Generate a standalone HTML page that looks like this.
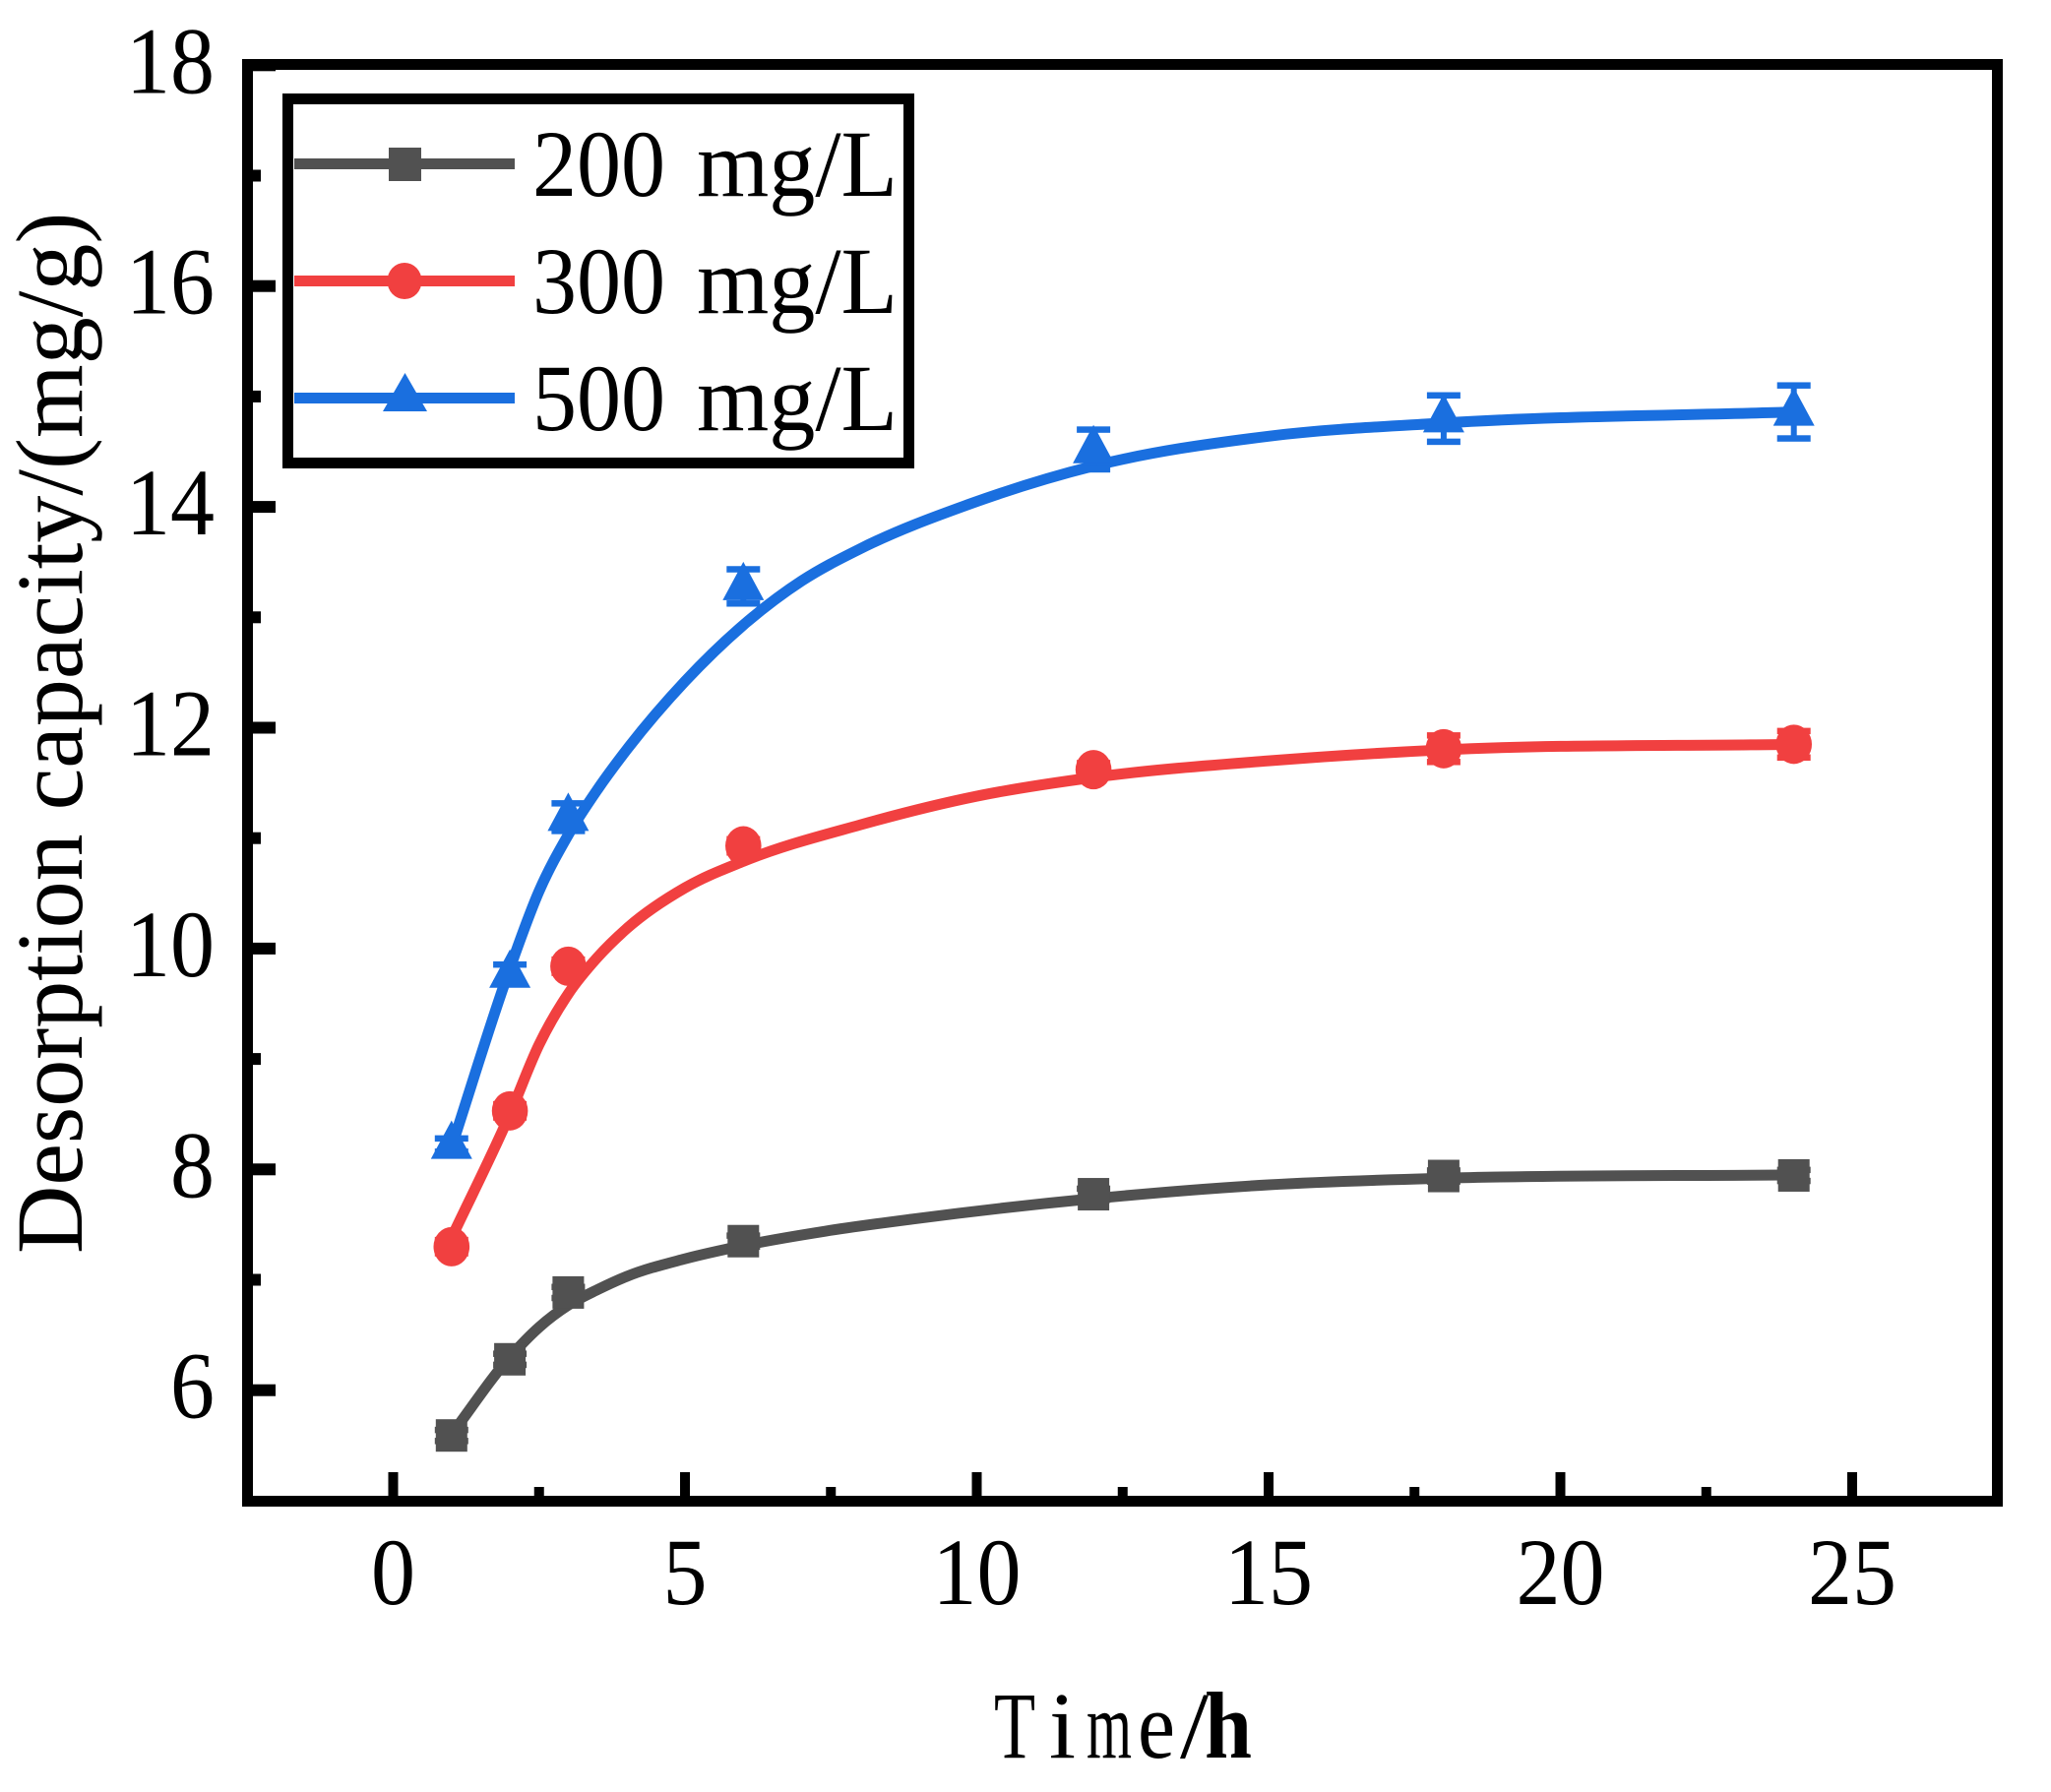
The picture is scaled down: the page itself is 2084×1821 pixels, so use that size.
<!DOCTYPE html>
<html lang="en">
<head>
<meta charset="utf-8">
<title>Desorption capacity over time</title>
<style>
html,body{margin:0;padding:0;background:#fff;}
svg{display:block;}
text{font-family:"Liberation Serif","Times New Roman",serif;font-size:96px;fill:#000;}
</style>
</head>
<body>
<svg id="chart" xmlns="http://www.w3.org/2000/svg" width="2084" height="1821" viewBox="0 0 2084 1821">
  <rect x="0" y="0" width="2084" height="1821" fill="#fff"/>
  <g id="ticks"></g>
  <g id="series"></g>
  <rect x="251.5" y="65.5" width="1778" height="1460" fill="none" stroke="#000" stroke-width="11"/>
  <text transform="translate(83,1274) rotate(-90)" x="0" y="0">Desorption capacity/(mg/g)</text>
  <text y="1786"><tspan x="1010" textLength="42" lengthAdjust="spacingAndGlyphs">T</tspan><tspan x="1066" textLength="27" lengthAdjust="spacingAndGlyphs">i</tspan><tspan x="1104" textLength="46" lengthAdjust="spacingAndGlyphs">m</tspan><tspan x="1156" textLength="38" lengthAdjust="spacingAndGlyphs">e</tspan><tspan x="1199" textLength="29" lengthAdjust="spacingAndGlyphs">/</tspan><tspan x="1224" font-weight="bold" textLength="48" lengthAdjust="spacingAndGlyphs">h</tspan></text>
  <g>
    <rect x="292.5" y="100.5" width="631" height="370" fill="#fff" stroke="#000" stroke-width="11"/>
    <g>
      <rect x="299" y="161" width="224" height="11" fill="#515151"/>
      <rect x="395" y="150" width="33" height="34" fill="#515151"/>
      <text y="199"><tspan x="541" textLength="135" lengthAdjust="spacingAndGlyphs">200</tspan> <tspan x="708" textLength="204" lengthAdjust="spacingAndGlyphs">mg/L</tspan></text>
    </g>
    <g>
      <rect x="299" y="280" width="224" height="11" fill="#F14040"/>
      <ellipse cx="411" cy="285.5" rx="17.5" ry="18.5" fill="#F14040"/>
      <text y="318"><tspan x="541" textLength="135" lengthAdjust="spacingAndGlyphs">300</tspan> <tspan x="708" textLength="204" lengthAdjust="spacingAndGlyphs">mg/L</tspan></text>
    </g>
    <g>
      <rect x="299" y="399" width="224" height="11" fill="#1A6FDF"/>
      <polygon points="411.5,379 434,418 389,418" fill="#1A6FDF"/>
      <text y="437"><tspan x="541" textLength="135" lengthAdjust="spacingAndGlyphs">500</tspan> <tspan x="708" textLength="204" lengthAdjust="spacingAndGlyphs">mg/L</tspan></text>
    </g>
  </g>
</svg>
<script>
// Measured data
const times = [1, 2, 3, 6, 12, 18, 24];
const gray200 = [5.59, 6.28, 6.885, 7.35, 7.775, 7.94, 7.945];
const red300 = [7.30, 8.53, 9.84, 10.93, 11.62, 11.81, 11.85];
const blue500 = [8.22, 9.77, 11.19, 13.28, 14.52, 14.80, 14.86];
const gray200Err = [0.05, 0.05, 0.05, 0.05, 0.05, 0.05, 0.05];
const red300Err = [0.06, 0.06, 0.06, 0.06, 0.06, 0.12, 0.12];
const blue500Err = [0.06, 0.085, 0.125, 0.155, 0.18, 0.21, 0.24];

// Fitted curves
const gray200FitT = [1, 2, 2.5, 3, 3.5, 4, 5, 6, 7.4, 8.9, 12, 15, 18, 24];
const gray200FitV = [5.60, 6.30, 6.57, 6.77, 6.91, 7.03, 7.19, 7.31, 7.44, 7.55, 7.735, 7.86, 7.92, 7.95];
const red300FitT = [1, 2, 2.5, 3, 3.5, 4, 5, 6, 8, 10, 12, 15, 18, 24];
const red300FitV = [7.38, 8.50, 9.13, 9.59, 9.92, 10.18, 10.55, 10.79, 11.12, 11.38, 11.55, 11.70, 11.80, 11.85];
const blue500FitT = [1, 2, 2.5, 3, 3.5, 4, 5, 6, 7, 8, 9.9, 12, 15, 18, 24];
const blue500FitV = [8.2, 9.82, 10.52, 11.03, 11.44, 11.80, 12.42, 12.93, 13.33, 13.62, 14.03, 14.37, 14.64, 14.76, 14.86];

// Tick labels
const xMajorTicks = [0, 5, 10, 15, 20, 25];
const xMinorTicks = [2.5, 7.5, 12.5, 17.5, 22.5];
const yMajorTicks = [6, 8, 10, 12, 14, 16, 18];
const yMinorTicks = [7, 9, 11, 13, 15, 17];

const SVGNS = 'http://www.w3.org/2000/svg';
const GRAY = '#515151', RED = '#F14040', BLUE = '#1A6FDF';
const xScale = t => 399.5 + 59.3 * t;
const yScale = v => 1412.7 - 112.2 * (v - 6);

function make(tag, parent, props, text) {
  const el = document.createElementNS(SVGNS, tag);
  for (const k in props) el.setAttribute(k, props[k]);
  if (text !== undefined) el.textContent = text;
  parent.appendChild(el);
  return el;
}

function curvePath(ts, vs) {
  const n = ts.length;
  const slopes = [];
  const widths = [];
  for (let i = 0; i < n - 1; i++) {
    widths.push(ts[i + 1] - ts[i]);
    slopes.push((vs[i + 1] - vs[i]) / widths[i]);
  }
  const tang = [];
  for (let i = 0; i < n; i++) {
    if (i === 0) tang.push(slopes[0]);
    else if (i === n - 1) tang.push(slopes[n - 2]);
    else tang.push((widths[i] * slopes[i - 1] + widths[i - 1] * slopes[i]) / (widths[i - 1] + widths[i]));
  }
  let d = 'M' + xScale(ts[0]).toFixed(2) + ' ' + yScale(vs[0]).toFixed(2);
  for (let i = 0; i < n - 1; i++) {
    const h = widths[i] / 3;
    d += ' C' + xScale(ts[i] + h).toFixed(2) + ' ' + yScale(vs[i] + tang[i] * h).toFixed(2) +
         ' ' + xScale(ts[i + 1] - h).toFixed(2) + ' ' + yScale(vs[i + 1] - tang[i + 1] * h).toFixed(2) +
         ' ' + xScale(ts[i + 1]).toFixed(2) + ' ' + yScale(vs[i + 1]).toFixed(2);
  }
  return d;
}

// Ticks
const tickGroup = document.getElementById('ticks');
xMajorTicks.forEach(function (t) {
  const tick = make('rect', tickGroup, {x: xScale(t) - 5, y: 1496, width: 10, height: 26, fill: '#000'});
  
  
  const text = String(t);
  const label = make('text', tickGroup, {x: xScale(t), y: 1630, 'text-anchor': 'middle', textLength: text.length * 45, lengthAdjust: 'spacingAndGlyphs'}, text);
  
  
});
xMinorTicks.forEach(function (t) {
  const tick = make('rect', tickGroup, {x: xScale(t) - 5, y: 1511, width: 10, height: 11, fill: '#000'});
  
  
});
yMajorTicks.forEach(function (v) {
  const tick = make('rect', tickGroup, {x: 255, y: yScale(v) - 6, width: 25, height: 12, fill: '#000'});
  
  
  const text = String(v);
  const label = make('text', tickGroup, {x: 218, y: yScale(v) + 28, 'text-anchor': 'end', textLength: text.length * 45, lengthAdjust: 'spacingAndGlyphs'}, text);
  
  
});
yMinorTicks.forEach(function (v) {
  const tick = make('rect', tickGroup, {x: 255, y: yScale(v) - 6, width: 10, height: 12, fill: '#000'});
  
  
});

// Series
const seriesGroup = document.getElementById('series');

function drawErrors(group, vals, errs, color) {
  times.forEach(function (t, i) {
    const cx = xScale(t), top = yScale(vals[i] + errs[i]), bot = yScale(vals[i] - errs[i]);
    const stem = make('rect', group, {x: cx - 3, y: top, width: 6, height: bot - top, fill: color});
    
    
    const capTop = make('rect', group, {x: cx - 17, y: top - 3.25, width: 34, height: 6.5, fill: color});
    
    
    const capBot = make('rect', group, {x: cx - 17, y: bot - 3.25, width: 34, height: 6.5, fill: color});
    
    
  });
}

// 200 mg/L
const g200 = make('g', seriesGroup, {});


const fit200 = make('path', g200, {d: curvePath(gray200FitT, gray200FitV), fill: 'none', stroke: GRAY, 'stroke-width': 11});


drawErrors(g200, gray200, gray200Err, GRAY);
times.forEach(function (t, i) {
  const m = make('rect', g200, {x: xScale(t) - 16, y: yScale(gray200[i]) - 16.5, width: 32, height: 33, fill: GRAY});
  
  
});

// 300 mg/L
const g300 = make('g', seriesGroup, {});


const fit300 = make('path', g300, {d: curvePath(red300FitT, red300FitV), fill: 'none', stroke: RED, 'stroke-width': 11});


drawErrors(g300, red300, red300Err, RED);
times.forEach(function (t, i) {
  const m = make('ellipse', g300, {cx: xScale(t), cy: yScale(red300[i]), rx: 18.3, ry: 20, fill: RED});
  
  
});

// 500 mg/L
const g500 = make('g', seriesGroup, {});


const fit500 = make('path', g500, {d: curvePath(blue500FitT, blue500FitV), fill: 'none', stroke: BLUE, 'stroke-width': 11});


drawErrors(g500, blue500, blue500Err, BLUE);
times.forEach(function (t, i) {
  const cx = xScale(t), cy = yScale(blue500[i]);
  const pts = cx + ',' + (cy - 25) + ' ' + (cx + 21) + ',' + (cy + 14) + ' ' + (cx - 21) + ',' + (cy + 14);
  const m = make('polygon', g500, {points: pts, fill: BLUE});
  
  
});
</script>
</body>
</html>
